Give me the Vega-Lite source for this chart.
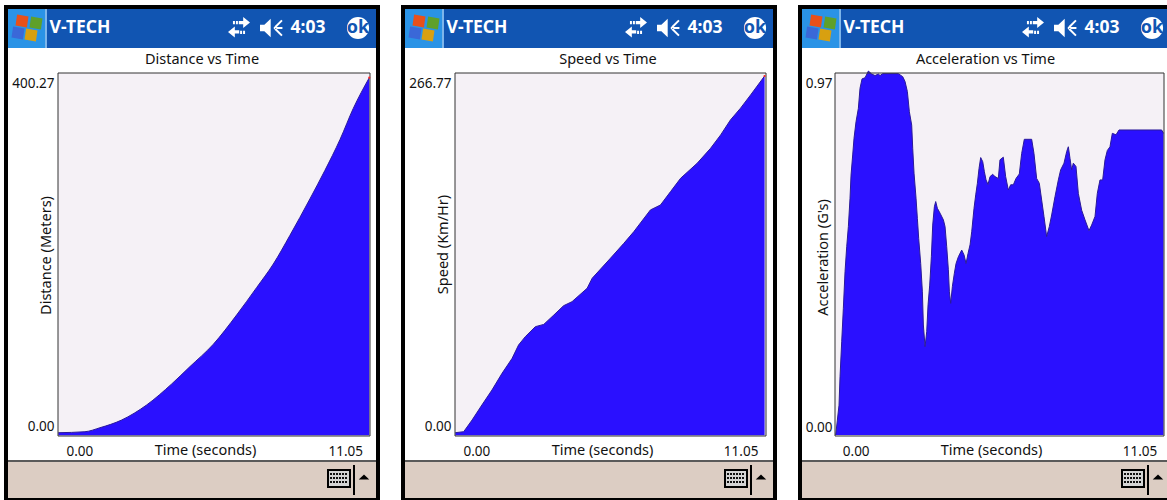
{
"$schema":"https://vega.github.io/schema/vega-lite/v6.json",
"padding":{"left":4,"top":5,"right":0,"bottom":0},
"background":"white",
"spacing":21,
"config":{"view":{"stroke":null},"font":"Noto Sans","title":{"font":"Noto Sans","fontSize":14.5,"fontWeight":"normal","color":"#111"}},
"datasets":{
"chrome":[
{"part":"bezel","x":0,"x2":376,"y":0,"y2":495},
{"part":"screen","x":4,"x2":372,"y":4,"y2":493},
{"part":"header","x":4,"x2":372,"y":4,"y2":43},
{"part":"start","x":4,"x2":41,"y":4,"y2":43},
{"part":"startedge","x":41,"x2":43,"y":4,"y2":43},
{"part":"footerline","x":4,"x2":372,"y":455,"y2":457},
{"part":"footer","x":4,"x2":372,"y":457,"y2":493},
{"part":"kbouter","x":323,"x2":347,"y":464,"y2":483},
{"part":"kbinner","x":325,"x2":345,"y":466,"y2":481},
{"part":"kbsep","x":349,"x2":351,"y":460,"y2":490}
],
"keys":[{"x":326,"x2":344,"y":469},{"x":326,"x2":344,"y":473},{"x":326,"x2":344,"y":477}],
"flag":[
{"part":"red","x":18,"y":16},
{"part":"green","x":32,"y":18},
{"part":"blue","x":14,"y":28},
{"part":"yellow","x":27,"y":30}
],
"texts":[{"label":"V-TECH","x":76,"y":23},{"label":"4:03","x":304,"y":23}],
"dist":[{"t":0,"v":0},{"t":0.947,"v":1.1},{"t":1.48,"v":5.6},{"t":2.25,"v":14.3},{"t":3.14,"v":31.3},{"t":4.03,"v":55},{"t":4.68,"v":74.6},{"t":5.51,"v":99.8},{"t":6.34,"v":132.9},{"t":7.05,"v":163.8},{"t":7.64,"v":190.2},{"t":8.23,"v":222.5},{"t":8.94,"v":263.6},{"t":9.47,"v":295.6},{"t":10.01,"v":330.6},{"t":10.48,"v":365.6},{"t":11.05,"v":400.27}],
"speed":[{"t":0,"v":0},{"t":0.3,"v":0.75},{"t":0.6,"v":9.5},{"t":0.95,"v":20.7},{"t":1.31,"v":31.9},{"t":1.67,"v":44.4},{"t":2.03,"v":55.6},{"t":2.26,"v":65.6},{"t":2.5,"v":71.8},{"t":2.86,"v":79.3},{"t":3.16,"v":81},{"t":3.52,"v":88},{"t":3.87,"v":95},{"t":4.17,"v":98},{"t":4.71,"v":108},{"t":4.89,"v":115.5},{"t":5.54,"v":130.4},{"t":6.02,"v":141.6},{"t":6.38,"v":150.4},{"t":6.97,"v":166.6},{"t":7.33,"v":170.3},{"t":7.69,"v":180.3},{"t":8.05,"v":190.3},{"t":8.64,"v":201.5},{"t":9.12,"v":212.7},{"t":9.48,"v":222.7},{"t":9.83,"v":233.9},{"t":10.19,"v":242.7},{"t":10.55,"v":252.6},{"t":11.05,"v":266.77}],
"accel":[{"t":0,"v":0},{"t":0.056,"v":0.04},{"t":0.112,"v":0.08},{"t":0.146,"v":0.156},{"t":0.202,"v":0.25},{"t":0.258,"v":0.34},{"t":0.315,"v":0.438},{"t":0.371,"v":0.505},{"t":0.427,"v":0.559},{"t":0.483,"v":0.635},{"t":0.517,"v":0.697},{"t":0.573,"v":0.751},{"t":0.618,"v":0.796},{"t":0.685,"v":0.84},{"t":0.764,"v":0.876},{"t":0.82,"v":0.93},{"t":0.888,"v":0.955},{"t":0.989,"v":0.958},{"t":1.101,"v":0.976},{"t":1.214,"v":0.968},{"t":1.326,"v":0.964},{"t":1.438,"v":0.968},{"t":1.495,"v":0.964},{"t":1.584,"v":0.969},{"t":2.113,"v":0.969},{"t":2.259,"v":0.961},{"t":2.337,"v":0.948},{"t":2.416,"v":0.921},{"t":2.483,"v":0.867},{"t":2.562,"v":0.831},{"t":2.596,"v":0.769},{"t":2.641,"v":0.702},{"t":2.708,"v":0.635},{"t":2.753,"v":0.581},{"t":2.798,"v":0.527},{"t":2.865,"v":0.46},{"t":2.922,"v":0.384},{"t":2.955,"v":0.295},{"t":3.012,"v":0.237},{"t":3.068,"v":0.277},{"t":3.113,"v":0.349},{"t":3.169,"v":0.402},{"t":3.225,"v":0.478},{"t":3.27,"v":0.563},{"t":3.326,"v":0.612},{"t":3.371,"v":0.626},{"t":3.427,"v":0.608},{"t":3.517,"v":0.595},{"t":3.63,"v":0.577},{"t":3.686,"v":0.559},{"t":3.742,"v":0.505},{"t":3.798,"v":0.443},{"t":3.832,"v":0.384},{"t":3.877,"v":0.353},{"t":3.933,"v":0.398},{"t":4.0,"v":0.434},{"t":4.057,"v":0.46},{"t":4.135,"v":0.478},{"t":4.248,"v":0.496},{"t":4.326,"v":0.483},{"t":4.394,"v":0.46},{"t":4.461,"v":0.487},{"t":4.529,"v":0.51},{"t":4.585,"v":0.545},{"t":4.663,"v":0.608},{"t":4.72,"v":0.644},{"t":4.776,"v":0.675},{"t":4.832,"v":0.715},{"t":4.888,"v":0.744},{"t":4.956,"v":0.733},{"t":5.012,"v":0.706},{"t":5.068,"v":0.684},{"t":5.135,"v":0.672},{"t":5.203,"v":0.693},{"t":5.291,"v":0.699},{"t":5.37,"v":0.693},{"t":5.482,"v":0.688},{"t":5.538,"v":0.738},{"t":5.65,"v":0.745},{"t":5.729,"v":0.693},{"t":5.819,"v":0.657},{"t":5.898,"v":0.671},{"t":5.988,"v":0.671},{"t":6.078,"v":0.688},{"t":6.19,"v":0.7},{"t":6.269,"v":0.755},{"t":6.358,"v":0.793},{"t":6.606,"v":0.793},{"t":6.684,"v":0.755},{"t":6.774,"v":0.688},{"t":6.864,"v":0.675},{"t":6.943,"v":0.63},{"t":7.021,"v":0.586},{"t":7.111,"v":0.532},{"t":7.201,"v":0.559},{"t":7.28,"v":0.59},{"t":7.392,"v":0.639},{"t":7.505,"v":0.684},{"t":7.583,"v":0.711},{"t":7.696,"v":0.729},{"t":7.786,"v":0.76},{"t":7.842,"v":0.773},{"t":7.898,"v":0.742},{"t":7.954,"v":0.711},{"t":8.01,"v":0.729},{"t":8.1,"v":0.72},{"t":8.179,"v":0.648},{"t":8.291,"v":0.603},{"t":8.404,"v":0.577},{"t":8.538,"v":0.548},{"t":8.628,"v":0.563},{"t":8.741,"v":0.586},{"t":8.819,"v":0.648},{"t":8.909,"v":0.684},{"t":8.999,"v":0.684},{"t":9.078,"v":0.738},{"t":9.156,"v":0.763},{"t":9.246,"v":0.773},{"t":9.325,"v":0.809},{"t":9.449,"v":0.805},{"t":9.55,"v":0.818},{"t":10.988,"v":0.818},{"t":11.05,"v":0.809}],
"box12":[{"x":54,"x2":366,"y":68,"y2":431}],
"box2":[{"x":54,"x2":365,"y":68,"y2":431}],
"box3":[{"x":37,"x2":366,"y":68,"y2":431}]
},
"hconcat":[
{"width":376,"height":495,
"title":{"text":"Distance vs Time","offset":-62,"anchor":"middle","frame":"group","dx":10,"zindex":1},
"resolve":{"scale":{"x":"independent","y":"independent","color":"independent"},"axis":{"x":"independent","y":"independent"}},
"layer":[
{"data":{"name":"chrome"},"mark":{"type":"rect","clip":true},"encoding":{"x":{"field":"x","type":"quantitative","scale":{"domain":[0,376],"range":[0,376]},"axis":null},"x2":{"field":"x2"},"y":{"field":"y","type":"quantitative","scale":{"domain":[0,495],"range":[0,495]},"axis":null},"y2":{"field":"y2"},"color":{"field":"part","type":"nominal","legend":null,"scale":{"domain":["bezel","screen","header","start","startedge","footerline","footer","kbouter","kbinner","kbsep"],"range":["#000000","#ffffff","#1155b2","#2a93e6","#7db5ea","#5a5a5a","#dccdc3","#000000","#d4d4d4","#000000"]}}}},
{"data":{"name":"keys"},"mark":{"type":"rule","strokeDash":[2,1],"strokeWidth":2,"color":"#111"},"encoding":{"x":{"field":"x","type":"quantitative","scale":{"domain":[0,376],"range":[0,376]},"axis":null},"x2":{"field":"x2"},"y":{"field":"y","type":"quantitative","scale":{"domain":[0,495],"range":[0,495]},"axis":null}}},
{"data":{"name":"flag"},"mark":{"type":"point","filled":true,"opacity":1,"size":169,"shape":"M-0.75,-1L1,-0.7L0.75,1L-1,0.7Z"},"encoding":{"x":{"field":"x","type":"quantitative","scale":{"domain":[0,376],"range":[0,376]},"axis":null},"y":{"field":"y","type":"quantitative","scale":{"domain":[0,495],"range":[0,495]},"axis":null},"color":{"field":"part","type":"nominal","legend":null,"scale":{"domain":["red","green","blue","yellow"],"range":["#e8501a","#5fa02a","#3a68d8","#d8a010"]}}}},
{"data":{"values":[{"x":235,"y":22.5}]},"mark":{"type":"point","filled":true,"opacity":1,"color":"white","size":484,"shape":"M-0.55,-0.6h0.18v0.3h-0.18zM-0.28,-0.6h0.18v0.3h-0.18zM-0.02,-0.6h0.4v-0.35l0.62,0.5l-0.62,0.5v-0.35h-0.4zM0.55,0.3h-0.18v0.3h0.18zM0.28,0.3h-0.18v0.3h0.18zM0.02,0.25h-0.4v-0.35l-0.62,0.5l0.62,0.5v-0.35h0.4z"},"encoding":{"x":{"field":"x","type":"quantitative","scale":{"domain":[0,376],"range":[0,376]},"axis":null},"y":{"field":"y","type":"quantitative","scale":{"domain":[0,495],"range":[0,495]},"axis":null}}},
{"data":{"values":[{"x":267.5,"y":23}]},"mark":{"type":"point","filled":true,"opacity":1,"color":"white","size":529,"shape":"M-1,-0.28h0.38l0.55,-0.52v1.6l-0.55,-0.52h-0.38zM0.2,-0.08h0.75v0.16h-0.75zM0.25,-0.12l0.6,-0.6l0.12,0.12l-0.6,0.6zM0.25,0.12l0.6,0.6l0.12,-0.12l-0.6,-0.6z"},"encoding":{"x":{"field":"x","type":"quantitative","scale":{"domain":[0,376],"range":[0,376]},"axis":null},"y":{"field":"y","type":"quantitative","scale":{"domain":[0,495],"range":[0,495]},"axis":null}}},
{"data":{"values":[{"x":354,"y":23}]},"mark":{"type":"point","filled":true,"opacity":1,"color":"white","size":490,"shape":"circle"},"encoding":{"x":{"field":"x","type":"quantitative","scale":{"domain":[0,376],"range":[0,376]},"axis":null},"y":{"field":"y","type":"quantitative","scale":{"domain":[0,495],"range":[0,495]},"axis":null}}},
{"data":{"values":[{"x":354,"y":23,"label":"ok"}]},"mark":{"type":"text","font":"Noto Sans","fontWeight":"bold","fontSize":18,"color":"#1155b2","baseline":"middle"},"encoding":{"x":{"field":"x","type":"quantitative","scale":{"domain":[0,376],"range":[0,376]},"axis":null},"y":{"field":"y","type":"quantitative","scale":{"domain":[0,495],"range":[0,495]},"axis":null},"text":{"field":"label"}}},
{"data":{"values":[{"x":360,"y":472}]},"mark":{"type":"point","filled":true,"opacity":1,"color":"black","size":110,"shape":"M-1,0.5L0,-0.5L1,0.5Z"},"encoding":{"x":{"field":"x","type":"quantitative","scale":{"domain":[0,376],"range":[0,376]},"axis":null},"y":{"field":"y","type":"quantitative","scale":{"domain":[0,495],"range":[0,495]},"axis":null}}},
{"data":{"name":"texts"},"mark":{"type":"text","font":"Noto Sans","fontWeight":"bold","fontSize":17.5,"color":"white","baseline":"middle"},"encoding":{"x":{"field":"x","type":"quantitative","scale":{"domain":[0,376],"range":[0,376]},"axis":null},"y":{"field":"y","type":"quantitative","scale":{"domain":[0,495],"range":[0,495]},"axis":null},"text":{"field":"label"}}},
{"data":{"name":"box12"},"mark":{"type":"rect","color":"#f5f1f6"},"encoding":{"x":{"field":"x","type":"quantitative","scale":{"domain":[0,376],"range":[0,376]},"axis":null},"x2":{"field":"x2"},"y":{"field":"y","type":"quantitative","scale":{"domain":[0,495],"range":[0,495]},"axis":null},"y2":{"field":"y2"}}},
{"data":{"name":"dist"},"mark":{"type":"area","color":"#2a10ff","opacity":1,"interpolate":"monotone","line":{"color":"#2a1a9a","strokeWidth":1,"opacity":1}},"encoding":{"x":{"field":"t","type":"quantitative","scale":{"domain":[0,11.05],"range":[54.3,365.3]},"axis":{"orient":"bottom","values":[0,11.05],"format":".2f","offset":-56,"domain":false,"ticks":false,"grid":false,"labelPadding":0,"labelFont":"Noto Sans","labelFontSize":13.5,"labelColor":"#111","labelFlush":false,"labelBound":false,"labelOverlap":false,"labelOffset":{"condition":{"test":"datum.value==0","value":21},"value":-24},"title":"Time (seconds)","titleFont":"Noto Sans","titleFontSize":14.5,"titleFontWeight":"normal","titleColor":"#111","titleX":201,"titleY":6,"titleBaseline":"middle","titleAnchor":"middle","titleAlign":"center","zindex":1}},"y":{"field":"v","type":"quantitative","scale":{"domain":[0,400.27],"range":[427.7,72.7]},"axis":{"orient":"left","values":[0,400.27],"format":".2f","offset":-50,"domain":false,"ticks":false,"grid":false,"labelPadding":0,"labelFont":"Noto Sans","labelFontSize":13.5,"labelColor":"#111","labelBound":false,"labelOverlap":false,"labelOffset":{"condition":{"test":"datum.value==0","value":-6},"value":5.5},"title":"Distance (Meters)","titleFont":"Noto Sans","titleFontSize":14.5,"titleFontWeight":"normal","titleColor":"#111","titleX":-8,"titleY":250,"titleBaseline":"middle","titleAnchor":"middle","titleAlign":"center","zindex":1}},"y2":{"datum":-3}}},
{"data":{"name":"box12"},"mark":{"type":"rect","fill":null,"stroke":"#333","strokeWidth":1},"encoding":{"x":{"field":"x","type":"quantitative","scale":{"domain":[0,376],"range":[0,376]},"axis":null},"x2":{"field":"x2"},"y":{"field":"y","type":"quantitative","scale":{"domain":[0,495],"range":[0,495]},"axis":null},"y2":{"field":"y2"}}},
{"data":{"values":[{"t":11.05,"v":400.27}]},"mark":{"type":"point","filled":true,"opacity":1,"color":"#ff2020","size":5},"encoding":{"x":{"field":"t","type":"quantitative","scale":{"domain":[0,11.05],"range":[54.3,365.3]},"axis":null},"y":{"field":"v","type":"quantitative","scale":{"domain":[0,400.27],"range":[427.7,72.7]},"axis":null}}}
]},
{"width":376,"height":495,
"title":{"text":"Speed vs Time","offset":-62,"anchor":"middle","frame":"group","dx":19,"zindex":1},
"resolve":{"scale":{"x":"independent","y":"independent","color":"independent"},"axis":{"x":"independent","y":"independent"}},
"layer":[
{"data":{"name":"chrome"},"mark":{"type":"rect","clip":true},"encoding":{"x":{"field":"x","type":"quantitative","scale":{"domain":[0,376],"range":[0,376]},"axis":null},"x2":{"field":"x2"},"y":{"field":"y","type":"quantitative","scale":{"domain":[0,495],"range":[0,495]},"axis":null},"y2":{"field":"y2"},"color":{"field":"part","type":"nominal","legend":null,"scale":{"domain":["bezel","screen","header","start","startedge","footerline","footer","kbouter","kbinner","kbsep"],"range":["#000000","#ffffff","#1155b2","#2a93e6","#7db5ea","#5a5a5a","#dccdc3","#000000","#d4d4d4","#000000"]}}}},
{"data":{"name":"keys"},"mark":{"type":"rule","strokeDash":[2,1],"strokeWidth":2,"color":"#111"},"encoding":{"x":{"field":"x","type":"quantitative","scale":{"domain":[0,376],"range":[0,376]},"axis":null},"x2":{"field":"x2"},"y":{"field":"y","type":"quantitative","scale":{"domain":[0,495],"range":[0,495]},"axis":null}}},
{"data":{"name":"flag"},"mark":{"type":"point","filled":true,"opacity":1,"size":169,"shape":"M-0.75,-1L1,-0.7L0.75,1L-1,0.7Z"},"encoding":{"x":{"field":"x","type":"quantitative","scale":{"domain":[0,376],"range":[0,376]},"axis":null},"y":{"field":"y","type":"quantitative","scale":{"domain":[0,495],"range":[0,495]},"axis":null},"color":{"field":"part","type":"nominal","legend":null,"scale":{"domain":["red","green","blue","yellow"],"range":["#e8501a","#5fa02a","#3a68d8","#d8a010"]}}}},
{"data":{"values":[{"x":235,"y":22.5}]},"mark":{"type":"point","filled":true,"opacity":1,"color":"white","size":484,"shape":"M-0.55,-0.6h0.18v0.3h-0.18zM-0.28,-0.6h0.18v0.3h-0.18zM-0.02,-0.6h0.4v-0.35l0.62,0.5l-0.62,0.5v-0.35h-0.4zM0.55,0.3h-0.18v0.3h0.18zM0.28,0.3h-0.18v0.3h0.18zM0.02,0.25h-0.4v-0.35l-0.62,0.5l0.62,0.5v-0.35h0.4z"},"encoding":{"x":{"field":"x","type":"quantitative","scale":{"domain":[0,376],"range":[0,376]},"axis":null},"y":{"field":"y","type":"quantitative","scale":{"domain":[0,495],"range":[0,495]},"axis":null}}},
{"data":{"values":[{"x":267.5,"y":23}]},"mark":{"type":"point","filled":true,"opacity":1,"color":"white","size":529,"shape":"M-1,-0.28h0.38l0.55,-0.52v1.6l-0.55,-0.52h-0.38zM0.2,-0.08h0.75v0.16h-0.75zM0.25,-0.12l0.6,-0.6l0.12,0.12l-0.6,0.6zM0.25,0.12l0.6,0.6l0.12,-0.12l-0.6,-0.6z"},"encoding":{"x":{"field":"x","type":"quantitative","scale":{"domain":[0,376],"range":[0,376]},"axis":null},"y":{"field":"y","type":"quantitative","scale":{"domain":[0,495],"range":[0,495]},"axis":null}}},
{"data":{"values":[{"x":354,"y":23}]},"mark":{"type":"point","filled":true,"opacity":1,"color":"white","size":490,"shape":"circle"},"encoding":{"x":{"field":"x","type":"quantitative","scale":{"domain":[0,376],"range":[0,376]},"axis":null},"y":{"field":"y","type":"quantitative","scale":{"domain":[0,495],"range":[0,495]},"axis":null}}},
{"data":{"values":[{"x":354,"y":23,"label":"ok"}]},"mark":{"type":"text","font":"Noto Sans","fontWeight":"bold","fontSize":18,"color":"#1155b2","baseline":"middle"},"encoding":{"x":{"field":"x","type":"quantitative","scale":{"domain":[0,376],"range":[0,376]},"axis":null},"y":{"field":"y","type":"quantitative","scale":{"domain":[0,495],"range":[0,495]},"axis":null},"text":{"field":"label"}}},
{"data":{"values":[{"x":360,"y":472}]},"mark":{"type":"point","filled":true,"opacity":1,"color":"black","size":110,"shape":"M-1,0.5L0,-0.5L1,0.5Z"},"encoding":{"x":{"field":"x","type":"quantitative","scale":{"domain":[0,376],"range":[0,376]},"axis":null},"y":{"field":"y","type":"quantitative","scale":{"domain":[0,495],"range":[0,495]},"axis":null}}},
{"data":{"name":"texts"},"mark":{"type":"text","font":"Noto Sans","fontWeight":"bold","fontSize":17.5,"color":"white","baseline":"middle"},"encoding":{"x":{"field":"x","type":"quantitative","scale":{"domain":[0,376],"range":[0,376]},"axis":null},"y":{"field":"y","type":"quantitative","scale":{"domain":[0,495],"range":[0,495]},"axis":null},"text":{"field":"label"}}},
{"data":{"name":"box2"},"mark":{"type":"rect","color":"#f5f1f6"},"encoding":{"x":{"field":"x","type":"quantitative","scale":{"domain":[0,376],"range":[0,376]},"axis":null},"x2":{"field":"x2"},"y":{"field":"y","type":"quantitative","scale":{"domain":[0,495],"range":[0,495]},"axis":null},"y2":{"field":"y2"}}},
{"data":{"name":"speed"},"mark":{"type":"area","color":"#2a10ff","opacity":1,"line":{"color":"#2a1a9a","strokeWidth":1,"opacity":1}},"encoding":{"x":{"field":"t","type":"quantitative","scale":{"domain":[0,11.05],"range":[54.3,363.6]},"axis":{"orient":"bottom","values":[0,11.05],"format":".2f","offset":-56,"domain":false,"ticks":false,"grid":false,"labelPadding":0,"labelFont":"Noto Sans","labelFontSize":13.5,"labelColor":"#111","labelFlush":false,"labelBound":false,"labelOverlap":false,"labelOffset":{"condition":{"test":"datum.value==0","value":21},"value":-24},"title":"Time (seconds)","titleFont":"Noto Sans","titleFontSize":14.5,"titleFontWeight":"normal","titleColor":"#111","titleX":201,"titleY":6,"titleBaseline":"middle","titleAnchor":"middle","titleAlign":"center","zindex":1}},"y":{"field":"v","type":"quantitative","scale":{"domain":[0,266.77],"range":[427.7,71]},"axis":{"orient":"left","values":[0,266.77],"format":".2f","offset":-50,"domain":false,"ticks":false,"grid":false,"labelPadding":0,"labelFont":"Noto Sans","labelFontSize":13.5,"labelColor":"#111","labelBound":false,"labelOverlap":false,"labelOffset":{"condition":{"test":"datum.value==0","value":-6},"value":7},"title":"Speed (Km/Hr)","titleFont":"Noto Sans","titleFontSize":14.5,"titleFontWeight":"normal","titleColor":"#111","titleX":-8,"titleY":239,"titleBaseline":"middle","titleAnchor":"middle","titleAlign":"center","zindex":1}},"y2":{"datum":-2}}},
{"data":{"name":"box2"},"mark":{"type":"rect","fill":null,"stroke":"#333","strokeWidth":1},"encoding":{"x":{"field":"x","type":"quantitative","scale":{"domain":[0,376],"range":[0,376]},"axis":null},"x2":{"field":"x2"},"y":{"field":"y","type":"quantitative","scale":{"domain":[0,495],"range":[0,495]},"axis":null},"y2":{"field":"y2"}}},
{"data":{"values":[{"t":11.05,"v":266.77}]},"mark":{"type":"point","filled":true,"opacity":1,"color":"#ff2020","size":5},"encoding":{"x":{"field":"t","type":"quantitative","scale":{"domain":[0,11.05],"range":[54.3,363.6]},"axis":null},"y":{"field":"v","type":"quantitative","scale":{"domain":[0,266.77],"range":[427.7,71]},"axis":null}}}
]},
{"width":369,"height":495,
"title":{"text":"Acceleration vs Time","offset":-62,"anchor":"middle","frame":"group","dx":3,"zindex":1},
"resolve":{"scale":{"x":"independent","y":"independent","color":"independent"},"axis":{"x":"independent","y":"independent"}},
"layer":[
{"data":{"name":"chrome"},"mark":{"type":"rect","clip":true},"encoding":{"x":{"field":"x","type":"quantitative","scale":{"domain":[0,376],"range":[0,376]},"axis":null},"x2":{"field":"x2"},"y":{"field":"y","type":"quantitative","scale":{"domain":[0,495],"range":[0,495]},"axis":null},"y2":{"field":"y2"},"color":{"field":"part","type":"nominal","legend":null,"scale":{"domain":["bezel","screen","header","start","startedge","footerline","footer","kbouter","kbinner","kbsep"],"range":["#000000","#ffffff","#1155b2","#2a93e6","#7db5ea","#5a5a5a","#dccdc3","#000000","#d4d4d4","#000000"]}}}},
{"data":{"name":"keys"},"mark":{"type":"rule","strokeDash":[2,1],"strokeWidth":2,"color":"#111"},"encoding":{"x":{"field":"x","type":"quantitative","scale":{"domain":[0,376],"range":[0,376]},"axis":null},"x2":{"field":"x2"},"y":{"field":"y","type":"quantitative","scale":{"domain":[0,495],"range":[0,495]},"axis":null}}},
{"data":{"name":"flag"},"mark":{"type":"point","filled":true,"opacity":1,"size":169,"shape":"M-0.75,-1L1,-0.7L0.75,1L-1,0.7Z"},"encoding":{"x":{"field":"x","type":"quantitative","scale":{"domain":[0,376],"range":[0,376]},"axis":null},"y":{"field":"y","type":"quantitative","scale":{"domain":[0,495],"range":[0,495]},"axis":null},"color":{"field":"part","type":"nominal","legend":null,"scale":{"domain":["red","green","blue","yellow"],"range":["#e8501a","#5fa02a","#3a68d8","#d8a010"]}}}},
{"data":{"values":[{"x":235,"y":22.5}]},"mark":{"type":"point","filled":true,"opacity":1,"color":"white","size":484,"shape":"M-0.55,-0.6h0.18v0.3h-0.18zM-0.28,-0.6h0.18v0.3h-0.18zM-0.02,-0.6h0.4v-0.35l0.62,0.5l-0.62,0.5v-0.35h-0.4zM0.55,0.3h-0.18v0.3h0.18zM0.28,0.3h-0.18v0.3h0.18zM0.02,0.25h-0.4v-0.35l-0.62,0.5l0.62,0.5v-0.35h0.4z"},"encoding":{"x":{"field":"x","type":"quantitative","scale":{"domain":[0,376],"range":[0,376]},"axis":null},"y":{"field":"y","type":"quantitative","scale":{"domain":[0,495],"range":[0,495]},"axis":null}}},
{"data":{"values":[{"x":267.5,"y":23}]},"mark":{"type":"point","filled":true,"opacity":1,"color":"white","size":529,"shape":"M-1,-0.28h0.38l0.55,-0.52v1.6l-0.55,-0.52h-0.38zM0.2,-0.08h0.75v0.16h-0.75zM0.25,-0.12l0.6,-0.6l0.12,0.12l-0.6,0.6zM0.25,0.12l0.6,0.6l0.12,-0.12l-0.6,-0.6z"},"encoding":{"x":{"field":"x","type":"quantitative","scale":{"domain":[0,376],"range":[0,376]},"axis":null},"y":{"field":"y","type":"quantitative","scale":{"domain":[0,495],"range":[0,495]},"axis":null}}},
{"data":{"values":[{"x":354,"y":23}]},"mark":{"type":"point","filled":true,"opacity":1,"color":"white","size":490,"shape":"circle"},"encoding":{"x":{"field":"x","type":"quantitative","scale":{"domain":[0,376],"range":[0,376]},"axis":null},"y":{"field":"y","type":"quantitative","scale":{"domain":[0,495],"range":[0,495]},"axis":null}}},
{"data":{"values":[{"x":354,"y":23,"label":"ok"}]},"mark":{"type":"text","font":"Noto Sans","fontWeight":"bold","fontSize":18,"color":"#1155b2","baseline":"middle"},"encoding":{"x":{"field":"x","type":"quantitative","scale":{"domain":[0,376],"range":[0,376]},"axis":null},"y":{"field":"y","type":"quantitative","scale":{"domain":[0,495],"range":[0,495]},"axis":null},"text":{"field":"label"}}},
{"data":{"values":[{"x":360,"y":472}]},"mark":{"type":"point","filled":true,"opacity":1,"color":"black","size":110,"shape":"M-1,0.5L0,-0.5L1,0.5Z"},"encoding":{"x":{"field":"x","type":"quantitative","scale":{"domain":[0,376],"range":[0,376]},"axis":null},"y":{"field":"y","type":"quantitative","scale":{"domain":[0,495],"range":[0,495]},"axis":null}}},
{"data":{"name":"texts"},"mark":{"type":"text","font":"Noto Sans","fontWeight":"bold","fontSize":17.5,"color":"white","baseline":"middle"},"encoding":{"x":{"field":"x","type":"quantitative","scale":{"domain":[0,376],"range":[0,376]},"axis":null},"y":{"field":"y","type":"quantitative","scale":{"domain":[0,495],"range":[0,495]},"axis":null},"text":{"field":"label"}}},
{"data":{"name":"box3"},"mark":{"type":"rect","color":"#f5f1f6"},"encoding":{"x":{"field":"x","type":"quantitative","scale":{"domain":[0,376],"range":[0,376]},"axis":null},"x2":{"field":"x2"},"y":{"field":"y","type":"quantitative","scale":{"domain":[0,495],"range":[0,495]},"axis":null},"y2":{"field":"y2"}}},
{"data":{"name":"accel"},"mark":{"type":"area","color":"#2a10ff","opacity":1,"line":{"color":"#2a1a9a","strokeWidth":1,"opacity":1}},"encoding":{"x":{"field":"t","type":"quantitative","scale":{"domain":[0,11.05],"range":[37.7,365.5]},"axis":{"orient":"bottom","values":[0,11.05],"format":".2f","offset":-56,"domain":false,"ticks":false,"grid":false,"labelPadding":0,"labelFont":"Noto Sans","labelFontSize":13.5,"labelColor":"#111","labelFlush":false,"labelBound":false,"labelOverlap":false,"labelOffset":{"condition":{"test":"datum.value==0","value":20},"value":-24},"title":"Time (seconds)","titleFont":"Noto Sans","titleFontSize":14.5,"titleFontWeight":"normal","titleColor":"#111","titleX":193,"titleY":6,"titleBaseline":"middle","titleAnchor":"middle","titleAlign":"center","zindex":1}},"y":{"field":"v","type":"quantitative","scale":{"domain":[0,0.97],"range":[430,68.3]},"axis":{"orient":"left","values":[0,0.97],"format":".2f","offset":-34,"domain":false,"ticks":false,"grid":false,"labelPadding":0,"labelFont":"Noto Sans","labelFontSize":13.5,"labelColor":"#111","labelBound":false,"labelOverlap":false,"labelOffset":{"condition":{"test":"datum.value==0","value":-8},"value":10},"title":"Acceleration (G's)","titleFont":"Noto Sans","titleFontSize":14.5,"titleFontWeight":"normal","titleColor":"#111","titleX":-9,"titleY":252,"titleBaseline":"middle","titleAnchor":"middle","titleAlign":"center","zindex":1}},"y2":{"datum":0}}},
{"data":{"name":"box3"},"mark":{"type":"rect","fill":null,"stroke":"#333","strokeWidth":1},"encoding":{"x":{"field":"x","type":"quantitative","scale":{"domain":[0,376],"range":[0,376]},"axis":null},"x2":{"field":"x2"},"y":{"field":"y","type":"quantitative","scale":{"domain":[0,495],"range":[0,495]},"axis":null},"y2":{"field":"y2"}}}
]}
]
}
